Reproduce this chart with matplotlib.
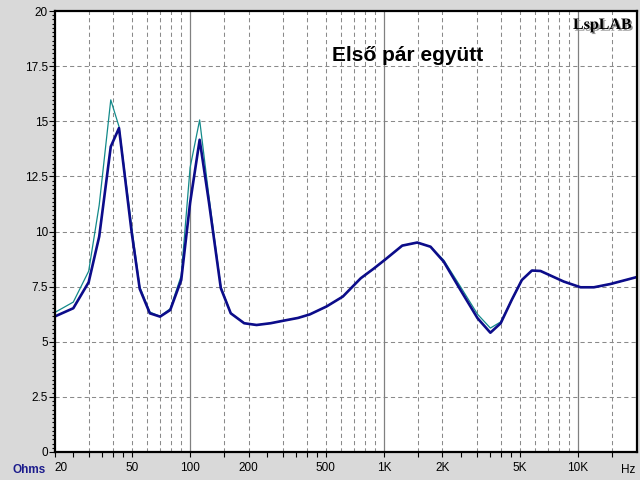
import numpy as np
import matplotlib
matplotlib.use("Agg")
from matplotlib import pyplot as plt
from matplotlib.ticker import FixedLocator, NullLocator
import matplotlib.patheffects as pe

# frequency points (Hz) and impedance readings (Ohm)
freq = [20, 25, 30, 34, 39, 43, 50, 55, 62, 70, 79, 90, 100, 112, 125, 144,
        162, 190, 220, 260, 305, 360, 414, 505, 613, 758, 888, 1017, 1240,
        1482, 1735, 2030, 2475, 3030, 3530, 3990, 4550, 5130, 5780, 6400,
        8430, 10300, 12060, 14700, 20000]

imp_pair = [6.14, 6.52, 7.7, 9.77, 13.85, 14.69, 9.95, 7.4, 6.29, 6.14, 6.44,
            7.8, 11.3, 14.16, 11.34, 7.43, 6.29, 5.84, 5.76, 5.84, 5.96, 6.08,
            6.24, 6.6, 7.05, 7.88, 8.33, 8.74, 9.36, 9.5, 9.31, 8.63, 7.35,
            6.07, 5.41, 5.84, 6.9, 7.8, 8.23, 8.21, 7.73, 7.47, 7.47, 7.62,
            7.93]

imp_single = [6.32, 6.8, 8.2, 11.2, 15.97, 14.76, 10.2, 7.5, 6.35, 6.15, 6.5,
              8.0, 12.9, 15.06, 11.6, 7.5, 6.3, 5.84, 5.76, 5.84, 5.96, 6.08,
              6.24, 6.6, 7.05, 7.88, 8.33, 8.74, 9.36, 9.5, 9.31, 8.7, 7.5,
              6.25, 5.62, 5.9, 6.9, 7.8, 8.23, 8.21, 7.73, 7.47, 7.47, 7.62,
              7.93]

grid_dashed = [30, 40, 50, 60, 70, 80, 90, 150, 200, 300, 400, 500, 600, 700,
               800, 900, 1500, 2000, 3000, 4000, 5000, 6000, 7000, 8000, 9000,
               15000]
grid_solid = [100, 1000, 10000]

xticks = [20, 25, 30, 35, 40, 45, 50, 100, 150, 200, 250, 300, 350, 400, 450,
          500, 1000, 1500, 2000, 2500, 3000, 3500, 4000, 4500, 5000, 10000,
          15000]
xlabels = {20: "20", 50: "50", 100: "100", 200: "200", 500: "500",
           1000: "1K", 2000: "2K", 5000: "5K", 10000: "10K"}
yticks = [0, 2.5, 5, 7.5, 10, 12.5, 15, 17.5, 20]
ylabels = ["0", "2.5", "5", "7.5", "10", "12.5", "15", "17.5", "20"]

title = "Első pár együtt"

W, H = 640, 480
fig = plt.figure(figsize=(6.4, 4.8), dpi=100, facecolor="#d9d9d9")
ax = fig.add_axes([54.5 / W, (H - 452) / H, (636.5 - 54.5) / W, (452 - 11) / H])
ax.set_facecolor("white")
ax.set_xscale("log")
ax.set_xlim(20, 20000)
ax.set_ylim(0, 20)

# grid
for y in yticks[1:-1]:
    ax.axhline(y, color="#8a8a8a", lw=0.75, ls=(0, (4, 3)), zorder=1)
for f in grid_dashed:
    ax.axvline(f, color="#8a8a8a", lw=0.75, ls=(0, (4, 3)), zorder=1)
for f in grid_solid:
    ax.axvline(f, color="#808080", lw=0.9, zorder=1)

ax.plot(freq, imp_single, color="#138a8a", lw=0.9, zorder=3)
ax.plot(freq, imp_pair, color="#0c0c8a", lw=1.9, zorder=4)

# ticks
ax.xaxis.set_major_locator(FixedLocator(xticks))
ax.xaxis.set_minor_locator(NullLocator())
ax.set_xticklabels([xlabels.get(f, "") for f in xticks])
ax.tick_params(axis="x", which="major", direction="out", length=3.6, width=0.8,
               pad=3.5, labelsize=8.5, color="black")
for lab in ax.get_xticklabels():
    lab.set_family("Liberation Sans")
ax.get_xticklabels()[0].set_horizontalalignment("left")

ax.yaxis.set_major_locator(FixedLocator(yticks))
ax.yaxis.set_minor_locator(FixedLocator(np.linspace(0, 20, 8 * 13 + 1)))
ax.set_yticklabels(ylabels)
ax.tick_params(axis="y", which="major", direction="out", length=4.3, width=0.8,
               pad=0.5, labelsize=8.5)
ax.tick_params(axis="y", which="minor", direction="out", length=2.2, width=0.8)
for lab in ax.get_yticklabels():
    lab.set_family("Liberation Sans")

for s in ax.spines.values():
    s.set_linewidth(1.6)
    s.set_color("black")
    s.set_zorder(5)

fig.text(12.5 / W, 1 - 473 / H, "Ohms", color="#1c1c8c", fontsize=8.5,
         fontweight="bold", family="Liberation Sans", ha="left", va="baseline")
fig.text(628 / W, 1 - 473 / H, "Hz", color="black", fontsize=8.5,
         family="Liberation Sans", ha="center", va="baseline")

ax.text(332 / W, 1 - 61 / H, title, transform=fig.transFigure, fontsize=15,
        fontweight="bold", family="Liberation Sans", ha="left", va="baseline",
        zorder=6)
ax.text(573 / W, 1 - 29 / H, "LspLAB", transform=fig.transFigure, fontsize=11.5,
        fontweight="bold", family="Liberation Serif", ha="left", va="baseline",
        zorder=6,
        path_effects=[pe.withSimplePatchShadow(offset=(1.2, -1.2),
                                               shadow_rgbFace="#888888",
                                               alpha=0.9)])

fig.savefig("out.png", dpi=100, facecolor=fig.get_facecolor())
